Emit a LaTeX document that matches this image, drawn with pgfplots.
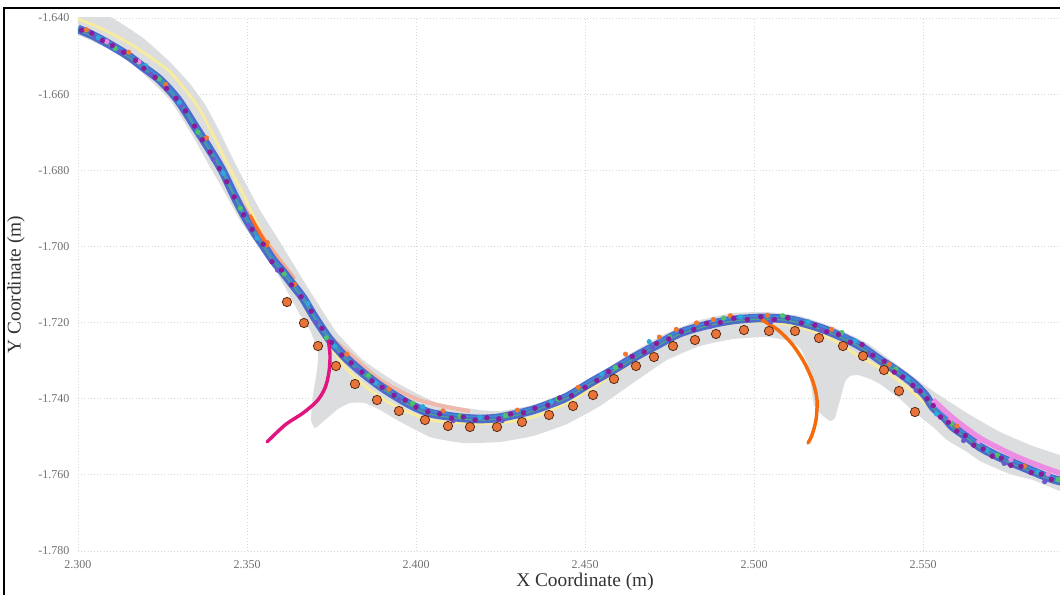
\documentclass[border=0pt]{standalone}
\usepackage{fontspec}
\setmainfont{Liberation Serif}
\usepackage{pgfplots}
\usepackage{pgfplotstable}
\pgfplotsset{compat=1.18}

\definecolor{roadgray}{HTML}{DCDDDE}
\definecolor{gridgray}{HTML}{D6D6D6}
\definecolor{tickgray}{HTML}{707070}
\definecolor{labelgray}{HTML}{333333}
\definecolor{refyellow}{HTML}{F7EBA0}
\definecolor{trackblue}{HTML}{4C6CCC}
\definecolor{trackcyan}{HTML}{2FA8DC}
\definecolor{trackgreen}{HTML}{4DC46A}
\definecolor{trackpurple}{HTML}{8A1C9C}
\definecolor{trackviolet}{HTML}{6A5ACD}
\definecolor{trackorange}{HTML}{F07830}
\definecolor{trackpink}{HTML}{EC8CE2}
\definecolor{salmon}{HTML}{F6A58C}
\definecolor{streak}{HTML}{FF6A1F}
\definecolor{wpfill}{HTML}{E8743A}
\definecolor{wpedge}{HTML}{5A2A12}
\definecolor{branchmagenta}{HTML}{E0157F}
\definecolor{branchorange}{HTML}{F56A0A}

% road surface (outline of the lane with its two side branches)
\pgfplotstableread{
x y
2.30000 -1.63974
2.30947 -1.63974
2.31923 -1.64525
2.32722 -1.65156
2.33314 -1.65730
2.33757 -1.66270
2.34142 -1.66900
2.34704 -1.67914
2.35385 -1.69043
2.36065 -1.70015
2.36657 -1.70882
2.37160 -1.71591
2.37663 -1.72274
2.38432 -1.72983
2.39438 -1.73588
2.40621 -1.74113
2.41893 -1.74297
2.42485 -1.74323
2.43462 -1.74166
2.44467 -1.73824
2.45444 -1.73325
2.46420 -1.72773
2.47426 -1.72274
2.48402 -1.71933
2.49379 -1.71749
2.50385 -1.71723
2.51361 -1.71828
2.52337 -1.72117
2.53343 -1.72537
2.54320 -1.73167
2.55296 -1.73798
2.56302 -1.74376
2.57278 -1.74875
2.58254 -1.75243
2.59053 -1.75479
2.60000 -1.75689
2.60000 -1.76608
2.59053 -1.76424
2.58254 -1.76135
2.57663 -1.76004
2.57278 -1.75873
2.56686 -1.75637
2.56302 -1.75400
2.55710 -1.75085
2.55296 -1.74743
2.54704 -1.74323
2.54320 -1.74008
2.53728 -1.73614
2.53432 -1.73483
2.53077 -1.73378
2.52840 -1.73404
2.52692 -1.73561
2.52544 -1.74034
2.52396 -1.74507
2.52249 -1.74586
2.52012 -1.74428
2.51775 -1.74166
2.51686 -1.73640
2.51598 -1.73115
2.51361 -1.72668
2.51065 -1.72484
2.50385 -1.72379
2.49379 -1.72432
2.48402 -1.72616
2.47426 -1.72983
2.46420 -1.73588
2.45444 -1.74192
2.44467 -1.74665
2.43462 -1.74980
2.42485 -1.75137
2.41391 -1.75164
2.40414 -1.75006
2.39438 -1.74560
2.38935 -1.74297
2.38491 -1.74113
2.38047 -1.74113
2.37692 -1.74271
2.37308 -1.74560
2.37012 -1.74770
2.36893 -1.74560
2.36953 -1.73903
2.37071 -1.73246
2.37101 -1.72773
2.36864 -1.72195
2.36568 -1.71801
2.36331 -1.71407
2.35888 -1.70698
2.35296 -1.69963
2.34793 -1.69306
2.34349 -1.68597
2.33905 -1.67914
2.33462 -1.67205
2.33107 -1.66679
2.32722 -1.66154
2.32130 -1.65629
2.31538 -1.65156
2.30858 -1.64788
2.30355 -1.64578
2.30000 -1.64447
}\road

% reference line of the lane
\pgfplotstableread{
x y
2.30000 -1.64026
2.30651 -1.64263
2.31450 -1.64630
2.32130 -1.65024
2.32722 -1.65418
2.33225 -1.65944
2.33609 -1.66417
2.33994 -1.67073
2.34408 -1.67809
2.34793 -1.68465
2.35178 -1.69175
2.35533 -1.69779
2.35917 -1.70304
2.36331 -1.70830
2.36716 -1.71355
2.37101 -1.71985
2.37456 -1.72589
2.37899 -1.73167
2.38639 -1.73771
2.39438 -1.74218
2.40414 -1.74560
2.41391 -1.74638
2.42396 -1.74638
2.43373 -1.74507
2.44467 -1.74113
2.45444 -1.73588
2.46420 -1.73036
2.47426 -1.72537
2.48402 -1.72143
2.49379 -1.72012
2.50385 -1.71985
2.51361 -1.72117
2.52337 -1.72458
2.53136 -1.72905
2.53935 -1.73299
2.54615 -1.73771
2.55207 -1.74244
}\refline

% recorded trajectory (mean path)
\pgfplotstableread{
x y
2.30000 -1.64289
2.30414 -1.64447
2.30858 -1.64657
2.31450 -1.64972
2.31923 -1.65287
2.32426 -1.65629
2.32959 -1.66154
2.33491 -1.66889
2.33905 -1.67467
2.34260 -1.67993
2.34586 -1.68597
2.34882 -1.69122
2.35178 -1.69569
2.35473 -1.69963
2.35769 -1.70357
2.36065 -1.70672
2.36361 -1.71013
2.36657 -1.71355
2.37012 -1.71880
2.37456 -1.72458
2.37929 -1.72931
2.38432 -1.73325
2.38935 -1.73667
2.39438 -1.73955
2.39911 -1.74192
2.40414 -1.74376
2.40917 -1.74454
2.41391 -1.74507
2.41893 -1.74533
2.42396 -1.74507
2.42870 -1.74428
2.43462 -1.74297
2.43964 -1.74139
2.44467 -1.73955
2.45148 -1.73588
2.45828 -1.73246
2.46420 -1.72931
2.47130 -1.72589
2.47811 -1.72274
2.48609 -1.72064
2.49379 -1.71933
2.50178 -1.71880
2.50917 -1.71907
2.51361 -1.71985
2.51953 -1.72143
2.52544 -1.72353
2.53136 -1.72616
2.53728 -1.72983
2.54231 -1.73272
2.54704 -1.73588
2.55059 -1.73903
2.55296 -1.74218
2.55651 -1.74507
2.55888 -1.74743
2.56302 -1.75006
2.56686 -1.75269
2.57189 -1.75505
2.57663 -1.75689
2.58166 -1.75873
2.58669 -1.76057
2.59053 -1.76162
2.60000 -1.76346
}\track

% individual samples
\pgfplotstableread{
x y
2.3010 -1.6432
2.3041 -1.6440
2.3072 -1.6459
2.3102 -1.6472
2.3135 -1.6490
2.3170 -1.6511
2.3195 -1.6532
2.3228 -1.6556
2.3262 -1.6585
2.3290 -1.6611
2.3318 -1.6644
2.3345 -1.6684
2.3368 -1.6720
2.3391 -1.6752
2.3418 -1.6795
2.3440 -1.6830
2.3462 -1.6870
2.3490 -1.6917
2.3515 -1.6955
2.3548 -1.6994
2.3574 -1.7040
2.3602 -1.7062
2.3632 -1.7101
2.3660 -1.7132
2.3690 -1.7170
2.3722 -1.7215
2.3750 -1.7252
2.3780 -1.7285
2.3808 -1.7306
2.3840 -1.7330
2.3870 -1.7353
2.3900 -1.7370
2.3935 -1.7391
2.3968 -1.7404
2.4000 -1.7422
2.4035 -1.7434
2.4070 -1.7440
2.4105 -1.7451
2.4140 -1.7448
2.4175 -1.7456
2.4210 -1.7450
2.4245 -1.7453
2.4280 -1.7440
2.4318 -1.7437
2.4352 -1.7425
2.4390 -1.7417
2.4425 -1.7398
2.4460 -1.7392
2.4500 -1.7370
2.4535 -1.7352
2.4570 -1.7329
2.4605 -1.7313
2.4640 -1.7289
2.4675 -1.7277
2.4712 -1.7255
2.4748 -1.7243
2.4785 -1.7224
2.4822 -1.7218
2.4860 -1.7202
2.4900 -1.7200
2.4940 -1.7189
2.4980 -1.7192
2.5020 -1.7185
2.5060 -1.7192
2.5100 -1.7188
2.5140 -1.7201
2.5180 -1.7207
2.5215 -1.7224
2.5250 -1.7231
2.5285 -1.7252
2.5320 -1.7258
2.5352 -1.7286
2.5385 -1.7302
2.5415 -1.7330
2.5440 -1.7343
2.5470 -1.7365
2.5492 -1.7380
2.5512 -1.7400
2.5530 -1.7418
2.5552 -1.7448
2.5575 -1.7462
2.5600 -1.7485
2.5625 -1.7497
2.5650 -1.7522
2.5678 -1.7532
2.5705 -1.7551
2.5732 -1.7556
2.5760 -1.7575
2.5790 -1.7578
2.5820 -1.7594
2.5850 -1.7598
2.5880 -1.7612
}\purpledots

\pgfplotstableread{
x y
2.3025 -1.6431
2.3150 -1.6490
2.3260 -1.6575
2.3380 -1.6715
2.3560 -1.6990
2.3640 -1.7100
2.3795 -1.7283
2.3920 -1.7375
2.4080 -1.7432
2.4300 -1.7430
2.4480 -1.7370
2.4620 -1.7283
2.4720 -1.7238
2.4770 -1.7218
2.4830 -1.7201
2.4880 -1.7192
2.4930 -1.7182
2.5040 -1.7181
2.5230 -1.7218
2.5400 -1.7310
2.5600 -1.7472
2.5800 -1.7577
}\orangedots

\pgfplotstableread{
x y
2.3060 -1.6452
2.3200 -1.6525
2.3300 -1.6622
2.3430 -1.6808
2.3530 -1.6978
2.3680 -1.7150
2.3760 -1.7262
2.3880 -1.7358
2.4020 -1.7421
2.4190 -1.7449
2.4400 -1.7408
2.4550 -1.7335
2.4690 -1.7250
2.4960 -1.7185
2.5160 -1.7198
2.5300 -1.7248
2.5455 -1.7348
2.5540 -1.7440
2.5690 -1.7535
2.5840 -1.7592
}\cyandots

\pgfplotstableread{
x y
2.3110 -1.6480
2.3240 -1.6560
2.3355 -1.6700
2.3480 -1.6900
2.3610 -1.7072
2.3735 -1.7240
2.3860 -1.7338
2.3990 -1.7412
2.4130 -1.7445
2.4265 -1.7444
2.4420 -1.7400
2.4590 -1.7318
2.4750 -1.7238
2.4910 -1.7188
2.5085 -1.7182
2.5260 -1.7226
2.5420 -1.7322
2.5585 -1.7466
2.5720 -1.7548
2.5900 -1.7612
}\greendots

\pgfplotstableread{
x y
2.3050 -1.6450
2.3125 -1.6488
2.3215 -1.6548
2.3305 -1.6630
2.3400 -1.6771
2.3505 -1.6945
2.3590 -1.7062
2.3705 -1.7200
2.3825 -1.7325
2.3950 -1.7402
2.4110 -1.7458
2.4255 -1.7458
2.4410 -1.7413
2.4560 -1.7340
2.4700 -1.7265
2.4870 -1.7210
2.5050 -1.7198
2.5200 -1.7220
2.5340 -1.7280
2.5480 -1.7378
2.5620 -1.7510
2.5740 -1.7570
2.5860 -1.7618
}\violetdots

\pgfplotstableread{
x y
2.3085 -1.6462
2.3180 -1.6515
2.5580 -1.7455
2.5665 -1.7512
2.5760 -1.7560
2.5870 -1.7598
}\pinkdots

% planned waypoints
\pgfplotstableread{
x y
2.36183 -1.71460
2.36686 -1.72012
2.37101 -1.72616
2.37633 -1.73141
2.38195 -1.73614
2.38846 -1.74034
2.39497 -1.74323
2.40266 -1.74559
2.40947 -1.74717
2.41598 -1.74743
2.42396 -1.74743
2.43136 -1.74612
2.43935 -1.74428
2.44645 -1.74192
2.45237 -1.73903
2.45858 -1.73483
2.46509 -1.73141
2.47041 -1.72905
2.47604 -1.72616
2.48254 -1.72458
2.48876 -1.72300
2.49704 -1.72196
2.50444 -1.72222
2.51213 -1.72222
2.51923 -1.72406
2.52633 -1.72616
2.53225 -1.72878
2.53846 -1.73246
2.54290 -1.73798
2.54763 -1.74349
}\waypoints

\begin{document}
\begin{tikzpicture}
\useasboundingbox (-58.5pt,-33pt) rectangle (736.5pt,413.25pt);
\clip (-58.5pt,-33pt) rectangle (736.5pt,413.25pt);
\begin{axis}[
  scale only axis,
  width=760.5pt, height=399.75pt,
  xmin=2.3, xmax=2.6, ymin=-1.78, ymax=-1.64,
  xtick={2.3,2.35,2.4,2.45,2.5,2.55},
  ytick={-1.78,-1.76,-1.74,-1.72,-1.70,-1.68,-1.66,-1.64},
  grid=major,
  grid style={dotted, line width=0.7pt, color=gridgray},
  axis line style={draw=none},
  major tick style={draw=none},
  /pgf/number format/assume math mode=true,
  xticklabel={\pgfmathprintnumber[fixed,precision=3,zerofill]{\tick}},
  yticklabel={\pgfmathprintnumber[fixed,precision=3,zerofill]{\tick}},
  ticklabel style={font=\fontsize{9}{10}\selectfont, text=tickgray},
  xticklabel style={anchor=center, yshift=-10.5pt},
  yticklabel style={anchor=east, xshift=-3pt},
  xlabel={X Coordinate (m)},
  ylabel={Y Coordinate (m)},
  every axis x label/.style={at={(axis description cs:0.5,0)}, anchor=center, yshift=-23.5pt},
  every axis y label/.style={at={(axis description cs:0,0.5)}, anchor=center, xshift=-46.5pt, rotate=90},
  label style={font=\fontsize{14.5}{16}\selectfont, text=labelgray},
]
  % road
  \addplot[fill=roadgray, draw=none, smooth, tension=0.25] table {\road};
  % reference line
  \addplot[refyellow, line width=2.2pt, smooth, tension=0.5] table {\refline};
  % recorded runs
  \addplot[salmon, line width=5.5pt, smooth, opacity=0.9] coordinates {
    (2.34675,-1.68728) (2.35089,-1.69306) (2.35533,-1.69910) (2.35976,-1.70435) (2.36361,-1.70882)};
  \addplot[salmon!85!pink, line width=3pt, smooth, opacity=0.7] coordinates {
    (2.37456,-1.72370) (2.38047,-1.72830) (2.38935,-1.73500) (2.40118,-1.74040) (2.41598,-1.74330)};
  \addplot[trackblue, line width=6.5pt, smooth, tension=0.5] table {\track};
  \addplot[trackcyan, line width=1.2pt, smooth, tension=0.5, yshift=1.6pt, opacity=0.55] table {\track};
  \addplot[trackgreen, line width=1pt, smooth, tension=0.5, yshift=-0.8pt, opacity=0.6] table {\track};
  \addplot[streak, line width=2.4pt, smooth] coordinates {
    (2.35089,-1.69175) (2.35325,-1.69569) (2.35621,-1.70015)};
  \addplot[trackpink, line width=4pt, smooth] coordinates {
    (2.55296,-1.74034) (2.55888,-1.74507) (2.56686,-1.75032) (2.57663,-1.75479)
    (2.58462,-1.75768) (2.59053,-1.75952) (2.60000,-1.76214)};
  \addplot[only marks, mark=*, mark size=1.7pt, trackviolet, mark options={draw=none}] table {\violetdots};
  \addplot[only marks, mark=*, mark size=1.7pt, trackcyan, mark options={draw=none}] table {\cyandots};
  \addplot[only marks, mark=*, mark size=1.7pt, trackgreen, mark options={draw=none}] table {\greendots};
  \addplot[only marks, mark=*, mark size=1.7pt, trackorange, mark options={draw=none}] table {\orangedots};
  \addplot[only marks, mark=*, mark size=1.7pt, trackpink, mark options={draw=none}] table {\pinkdots};
  \addplot[only marks, mark=*, mark size=1.8pt, trackpurple, mark options={draw=none}] table {\purpledots};
  % side branches
  \addplot[branchmagenta, line width=2.6pt, smooth, line cap=round] coordinates {
    (2.37396,-1.72406) (2.37456,-1.72852) (2.37426,-1.73299) (2.37308,-1.73719)
    (2.37071,-1.74060) (2.36657,-1.74376) (2.36124,-1.74691) (2.35592,-1.75137)};
  \addplot[branchorange, line width=2.6pt, smooth, line cap=round] coordinates {
    (2.50237,-1.71933) (2.50710,-1.72196) (2.51124,-1.72563) (2.51479,-1.73036)
    (2.51746,-1.73561) (2.51864,-1.74034) (2.51834,-1.74559) (2.51716,-1.74953)
    (2.51598,-1.75164)};
  % waypoints
  \addplot[only marks, mark=*, mark size=3.5pt,
    mark options={fill=wpfill, draw=wpedge, line width=0.6pt}] table {\waypoints};
\end{axis}
% outer frame
\draw[black, line width=1.5pt] (-55.5pt,-40pt) -- (-55.5pt,407.25pt) -- (745pt,407.25pt);
\end{tikzpicture}
\end{document}
